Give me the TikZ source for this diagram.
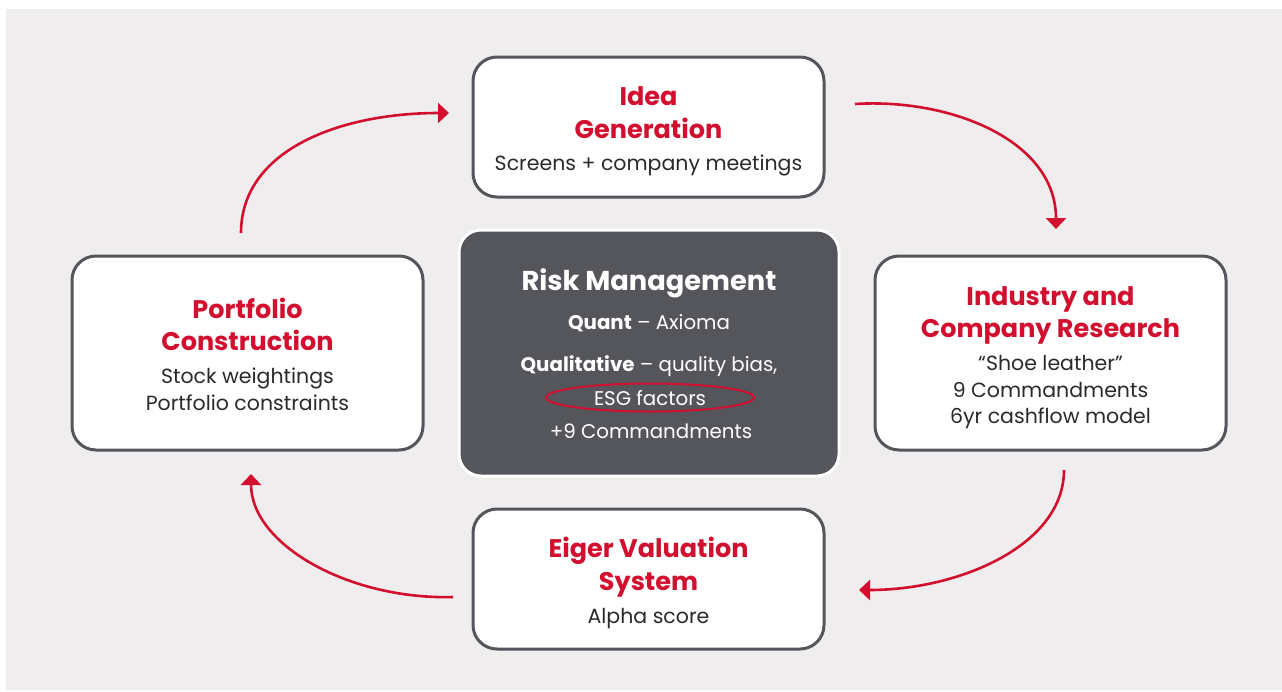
\documentclass[tikz,border=0pt]{standalone}
\usepackage{fontspec}
\setmainfont{Poppins}
\usetikzlibrary{arrows.meta}
\definecolor{bgc}{HTML}{EFEDEE}
\definecolor{boxgrey}{HTML}{55565B}
\definecolor{redc}{HTML}{D20F2E}
\definecolor{txt}{HTML}{2A2A2A}
\tikzset{
  box/.style={draw=boxgrey, line width=3pt, fill=white, rounded corners=24pt, minimum width=351pt, inner sep=0pt},
  centrebox/.style={draw=white, line width=3pt, fill=boxgrey, rounded corners=22pt, minimum width=380pt, minimum height=246pt, inner sep=0pt},
  ttl/.style={anchor=base, inner sep=0pt, text=redc, font=\fontsize{25.5}{30}\selectfont\bfseries},
  bdy/.style={anchor=base, inner sep=0pt, text=txt, font=\fontsize{20.5}{24}\selectfont},
  wbdy/.style={anchor=base, inner sep=0pt, text=white, font=\fontsize{19.8}{24}\selectfont},
  wttl/.style={anchor=base, inner sep=0pt, text=white, font=\fontsize{27.3}{30}\selectfont\bfseries},
  flow/.style={draw=redc, line width=2.6pt, -{Triangle[length=11pt,width=20pt]}},
}
\begin{document}
\begin{tikzpicture}[x=1pt,y=-1pt]
\useasboundingbox (0,0) rectangle (1282,691);
\fill[white] (0,0) rectangle (1282,691);
\fill[bgc] (6,9) rectangle (1282,690);

% boxes
\node[box, minimum height=140pt] (idea) at (648.5,127) {};
\node[box, minimum height=194pt] (port) at (247.5,353) {};
\node[box, minimum height=194pt] (ind) at (1050.5,353) {};
\node[box, minimum height=140pt] (eiger) at (648.5,579) {};
\node[centrebox] (risk) at (649,353) {};

% idea generation
\node[ttl] (idea1) at (648.5,105) {Idea};
\node[ttl] (idea2) at (648.5,138) {Generation};
\node[bdy] (idea3) at (648.5,170.5) {Screens + company meetings};

% portfolio
\node[ttl] (port1) at (247.5,318) {Portfolio};
\node[ttl] (port2) at (247.5,350.5) {Construction};
\node[bdy] (port3) at (247.5,383) {Stock weightings};
\node[bdy] (port4) at (247.5,410.5) {Portfolio constraints};

% industry
\node[ttl] (ind1) at (1050.5,305) {Industry and};
\node[ttl] (ind2) at (1050.5,337) {Company Research};
\node[bdy] (ind3) at (1050.5,370.5) {“Shoe leather”};
\node[bdy] (ind4) at (1050.5,397) {9 Commandments};
\node[bdy] (ind5) at (1050.5,423) {6yr cashflow model};

% eiger
\node[ttl] (eig1) at (648.5,557) {Eiger Valuation};
\node[ttl] (eig2) at (648.5,590) {System};
\node[bdy] (eig3) at (648.5,623) {Alpha score};

% risk
\node[wttl] (risk1) at (649,290) {Risk Management};
\node[wbdy] (risk2) at (649,329) {\textbf{Quant} – Axioma};
\node[wbdy] (risk3) at (649,371) {\textbf{Qualitative} – quality bias,};
\node[wbdy] (risk4) at (650,405) {ESG factors};
\node[wbdy] (risk5) at (651,438.5) {+9 Commandments};
\draw[redc, line width=2pt] (650,397.5) ellipse [x radius=104pt, y radius=14pt];

% arrows
\coordinate (a1s) at (241,233);
\coordinate (a1e) at (449,113);
\coordinate (a2s) at (855,104);
\coordinate (a2e) at (1056,229);
\coordinate (a3s) at (1064,470);
\coordinate (a3e) at (859,590);
\coordinate (a4s) at (453,597);
\coordinate (a4e) at (251,474);
\draw[flow] (a1s) .. controls (241,150) and (340,113) .. (a1e);
\draw[flow] (a2s) .. controls (950,98) and (1056,140) .. (a2e);
\draw[flow] (a3s) .. controls (1064,545) and (960,590) .. (a3e);
\draw[flow] (a4s) .. controls (350,600) and (251,545) .. (a4e);
\end{tikzpicture}
\end{document}
